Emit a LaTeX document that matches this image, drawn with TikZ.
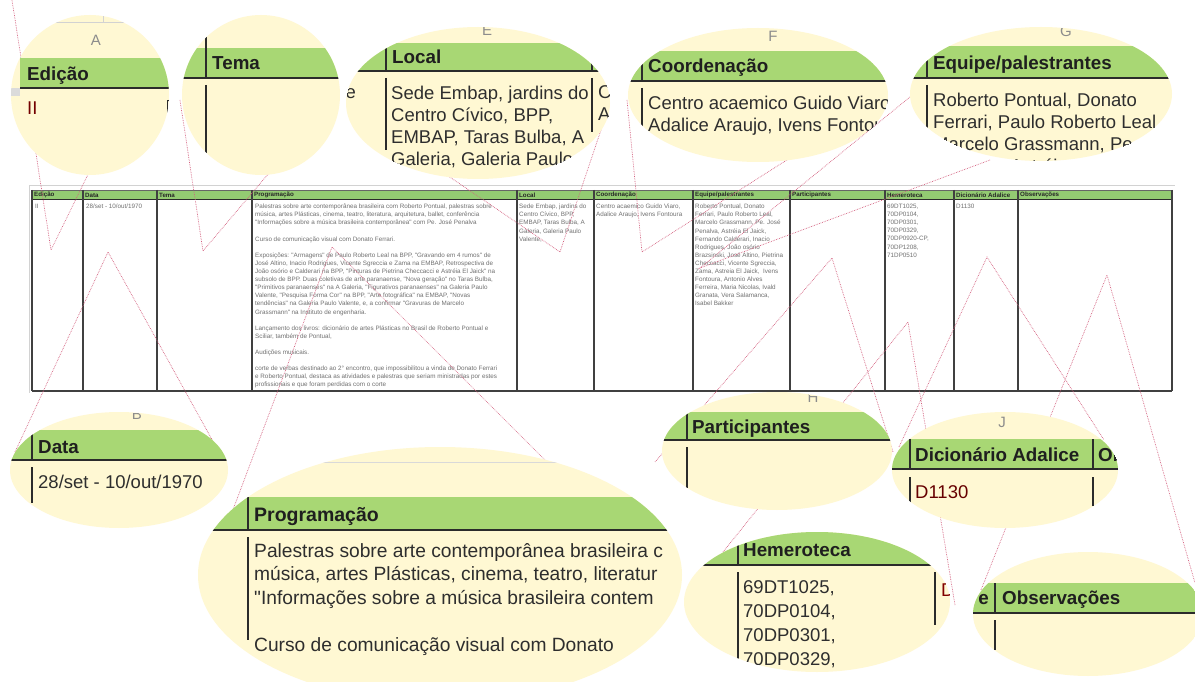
\documentclass[tikz,border=0pt]{standalone}
\usepackage{fontspec}
\setmainfont{Liberation Sans}
\definecolor{magy}{HTML}{FFF8D3}
\definecolor{magg}{HTML}{A8D774}
\definecolor{tabg}{HTML}{93CB72}
\definecolor{conncol}{HTML}{D4607F}
\definecolor{darkl}{HTML}{2B2B2B}
\definecolor{txt}{HTML}{2E2E2E}
\definecolor{tinytxt}{HTML}{707070}
\definecolor{lettc}{HTML}{8C8C8C}
\newcommand\qq{\textquotedbl}
\tikzset{
  conn/.style={draw=conncol, densely dotted, line width=0.7pt},
  vl/.style={draw=darkl, line width=1.6pt},
  hl/.style={draw=darkl, line width=1.8pt},
  tabline/.style={draw=black!75, line width=1.1pt},
  lett/.style={font=\fontsize{15}{18}\selectfont, text=lettc, inner sep=0pt},
  hdr/.style={font=\bfseries\fontsize{18.8}{22}\selectfont, text=black!88, anchor=base west, inner sep=0pt},
  big/.style={font=\fontsize{18.5}{22}\selectfont, text=txt, anchor=base west, inner sep=0pt},
  bigblock/.style={font=\fontsize{18.5}{22}\selectfont, text=txt, anchor=north west, align=left, inner sep=0pt},
  tinyhdr/.style={font=\bfseries\fontsize{6.2}{8}\selectfont, text=black!85, anchor=west, inner sep=0pt},
  tiny/.style={font=\fontsize{6.3}{8.1}\selectfont, text=tinytxt, anchor=north west, align=left, inner sep=0pt},
}
\begin{document}
\begin{tikzpicture}[x=1pt,y=-1pt]
\clip (0,0) rectangle (1195,682);
\fill[white] (0,0) rectangle (1195,682);

% ---------------- table ----------------
\draw[gray!35, line width=1pt] (29,186) -- (1175,186);
\draw[gray!35, line width=1pt] (29,186) -- (29,393);
\fill[tabg] (32,190) rectangle (1172,200);
\draw[black!60, line width=0.6pt] (32,190) -- (1172,190);
\draw[darkl, line width=1pt] (32,200) -- (1172,200);
\foreach \x in {32,83,157,252,517,594,693,790,885,954,1018,1172}
  \draw[tabline] (\x,190) -- (\x,391);
\draw[tabline] (32,391) -- (1172,391);

\node[tinyhdr] (th1) at (34,195) {Edição};
\node[tinyhdr] (th2) at (85,195) {Data};
\node[tinyhdr] (th3) at (159,195) {Tema};
\node[tinyhdr] (th4) at (254,195) {Programação};
\node[tinyhdr] (th5) at (519,195) {Local};
\node[tinyhdr] (th6) at (596,195) {Coordenação};
\node[tinyhdr] (th7) at (695,195) {Equipe/palestrantes};
\node[tinyhdr] (th8) at (792,195) {Participantes};
\node[tinyhdr] (th9) at (887,195) {Hemeroteca};
\node[tinyhdr] (th10) at (956,195) {Dicionário Adalice};
\node[tinyhdr] (th11) at (1020,195) {Observações};

\node[tiny] (tb1) at (35,204) {II};
\node[tiny] (tb2) at (86,204) {28/set - 10/out/1970};
\node[tiny] (tb4) at (255,204) {Palestras sobre arte contemporânea brasileira com Roberto Pontual, palestras sobre\\
música, artes Plásticas, cinema, teatro, literatura, arquitetura, ballet, conferência\\
\qq Informações sobre a música brasileira contemporânea\qq{} com Pe. José Penalva\\
~\\
Curso de comunicação visual com Donato Ferrari.\\
~\\
Exposições: \qq Armagens\qq{} de Paulo Roberto Leal na BPP, \qq Gravando em 4 rumos\qq{} de\\
José Altino, Inacio Rodrigues, Vicente Sgreccia e Zama na EMBAP, Retrospectiva de\\
João osório e Calderari na BPP, \qq Pinturas de Pietrina Checcacci e Astréia El Jaick\qq{} na\\
subsolo de BPP. Duas coletivas de arte paranaense, \qq Nova geração\qq{} no Taras Bulba,\\
\qq Primitivos paranaenses\qq{} na A Galeria, \qq Figurativos paranaenses\qq{} na Galeria Paulo\\
Valente, \qq Pesquisa Forma Cor\qq{} na BPP, \qq Arte fotográfica\qq{} na EMBAP, \qq Novas\\
tendências\qq{} na Galeria Paulo Valente, e, a confirmar \qq Gravuras de Marcelo\\
Grassmann\qq{} na Instituto de engenharia.\\
~\\
Lançamento dos livros: dicionário de artes Plásticas no Brasil de Roberto Pontual e\\
Sciliar, também de Pontual,\\
~\\
Audições musicais.\\
~\\
corte de verbas destinado ao 2° encontro, que impossibilitou a vinda de Donato Ferrari\\
e Roberto Pontual, destaca as atividades e palestras que seriam ministradas por estes\\
profissionais e que foram perdidas com o corte};
\node[tiny] (tb5) at (519,204) {Sede Embap, jardins do\\Centro Cívico, BPP,\\EMBAP, Taras Bulba, A\\Galeria, Galeria Paulo\\Valente,};
\node[tiny] (tb6) at (596,204) {Centro acaemico Guido Viaro,\\Adalice Araujo, Ivens Fontoura};
\node[tiny] (tb7) at (695,204) {Roberto Pontual, Donato\\Ferrari, Paulo Roberto Leal,\\Marcelo Grassmann, Pe. José\\Penalva, Astréia El Jaick,\\Fernando Calderari, Inacio\\Rodrigues, João osório\\Brazsinski, José Altino, Pietrina\\Checcacci, Vicente Sgreccia,\\Zama, Astreia El Jaick,~ Ivens\\Fontoura, Antonio Alves\\Ferreira, Maria Nicolas, Ivald\\Granata, Vera Salamanca,\\Isabel Bakker};
\node[tiny] (tb9) at (887,204) {69DT1025,\\70DP0104,\\70DP0301,\\70DP0329,\\70DP0920-CP,\\70DP1208,\\71DP0510};
\node[tiny] (tb10) at (956,204) {D1130};

% ---------------- connectors ----------------
\coordinate (tA) at (51,250);   \coordinate (eA1) at (12,0);     \coordinate (eA2) at (100,150);
\coordinate (tT) at (203,251);  \coordinate (eT1) at (180,100);  \coordinate (eT2) at (280,160);
\coordinate (tL) at (560,252);  \coordinate (eL1) at (410,150);  \coordinate (eL2) at (607,112);
\coordinate (tF) at (642,252);  \coordinate (eF1) at (627,100);  \coordinate (eF2) at (790,158);
\coordinate (tG) at (700,268);  \coordinate (eG1) at (910,97);   \coordinate (eG2) at (990,160);
\coordinate (tB) at (108,252);  \coordinate (eB1) at (15,452);   \coordinate (eB2) at (215,445);
\coordinate (tP) at (332,247);  \coordinate (eP1) at (214,560);  \coordinate (eP2) at (560,475);
\coordinate (tH) at (832,258);  \coordinate (eH1) at (655,462);  \coordinate (eH2) at (893,452);
\coordinate (tJ) at (987,257);  \coordinate (eJ1) at (899,447);  \coordinate (eJ2) at (1104,440);
\coordinate (tI) at (908,322);  \coordinate (eI1) at (723,552);  \coordinate (eI2) at (955,605);
\coordinate (tO) at (1107,275); \coordinate (eO1) at (981,590);  \coordinate (eO2) at (1195,583);
\foreach \t/\a/\b in {tA/eA1/eA2, tT/eT1/eT2, tL/eL1/eL2, tF/eF1/eF2, tG/eG1/eG2, tB/eB1/eB2, tP/eP1/eP2, tH/eH1/eH2, tJ/eJ1/eJ2, tI/eI1/eI2, tO/eO1/eO2}
  \draw[conn] (\a) -- (\t) -- (\b);

% ---------------- magnifier A : Edição ----------------
\begin{scope}
\clip (90,95) ellipse [x radius=79, y radius=80];
\fill[magy] (0,0) rectangle (200,200);
\draw[gray!35, line width=0.8pt] (20,22) -- (180,22);
\draw[gray!35, line width=0.8pt] (20,0) -- (20,88);
\draw[gray!35, line width=0.8pt] (103,10) -- (103,22);
\node[lett] (lA) at (96,40) {A};
\fill[magg] (20,58) rectangle (180,88);
\fill[gray!28] (0,88) rectangle (20,96);
\draw[hl] (20,88) -- (180,88);
\node[hdr] (hA) at (27,81) {Edição};
\node[big, text=red!45!black] (bA) at (27,114.5) {II};
\draw[vl] (168,100) -- (168,118);
\end{scope}

% ---------------- magnifier Tema ----------------
\begin{scope}
\clip (261,95) ellipse [x radius=79, y radius=80];
\fill[magy] (180,10) rectangle (345,180);
\fill[magg] (180,48) rectangle (345,78);
\draw[hl] (180,78) -- (345,78);
\draw[vl] (206,37) -- (206,78);
\draw[vl] (206,85) -- (206,153);
\node[hdr] (hT) at (212,69.5) {Tema};
\end{scope}

% ---------------- magnifier E : Local ----------------
\begin{scope}
\clip (478,103) ellipse [x radius=132, y radius=76];
\fill[magy] (340,20) rectangle (620,185);
\node[lett] (lE) at (487,30) {E};
\fill[magg] (340,43) rectangle (620,71);
\draw[hl] (340,71) -- (620,71);
\draw[vl] (386,43) -- (386,71);
\draw[vl] (592,43) -- (592,71);
\draw[vl] (386,78) -- (386,150);
\draw[vl] (592,78) -- (592,132);
\node[hdr] (hE) at (392,63.5) {Local};
\node[big, anchor=base east] (bE0) at (356,98.5) {e};
\node[bigblock] (bE) at (391,85.4) {Sede Embap, jardins do\\Centro Cívico, BPP,\\EMBAP, Taras Bulba, A\\Galeria, Galeria Paulo};
\node[bigblock] (bE2) at (598,85.4) {Ce\\Ad};
\end{scope}

% ---------------- magnifier F : Coordenação ----------------
\begin{scope}
\clip (758,95) ellipse [x radius=130, y radius=67];
\fill[magy] (620,20) rectangle (900,170);
\node[lett] (lF) at (773,36) {F};
\fill[magg] (620,51) rectangle (900,81);
\draw[hl] (620,81) -- (900,81);
\draw[vl] (642,51) -- (642,81);
\draw[vl] (642,88) -- (642,127);
\node[hdr] (hF) at (648,72.5) {Coordenação};
\node[bigblock] (bF) at (648,95.4) {Centro acaemico Guido Viaro,\\Adalice Araujo, Ivens Fontou};
\end{scope}

% ---------------- magnifier G : Equipe ----------------
\begin{scope}
\clip (1041,94) ellipse [x radius=131, y radius=67];
\fill[magy] (905,20) rectangle (1180,170);
\node[lett] (lG) at (1066,31) {G};
\fill[magg] (905,46) rectangle (1180,78);
\draw[hl] (905,78) -- (1180,78);
\draw[vl] (927,46) -- (927,78);
\draw[vl] (927,85) -- (927,135);
\node[hdr] (hG) at (933,69.5) {Equipe/palestrantes};
\node[bigblock] (bG) at (933,92.4) {Roberto Pontual, Donato\\Ferrari, Paulo Roberto Leal\\Marcelo Grassmann, Pe\\Penalva, Astréia El};
\end{scope}

% ---------------- magnifier B : Data ----------------
\begin{scope}
\clip (119,470) ellipse [x radius=109, y radius=58];
\fill[magy] (5,405) rectangle (235,535);
\node[lett] (lB) at (137,414) {B};
\fill[magg] (5,430) rectangle (235,460);
\draw[hl] (5,460) -- (235,460);
\draw[vl] (32,433) -- (32,460);
\draw[vl] (32,467) -- (32,503);
\node[hdr] (hB) at (38,453.5) {Data};
\node[big] (bB) at (38,488.5) {28/set - 10/out/1970};
\end{scope}

% ---------------- magnifier Programação ----------------
\begin{scope}
\clip (440,575) ellipse [x radius=242, y radius=128];
\fill[magy] (190,440) rectangle (690,710);
\draw[gray!30, line width=0.8pt] (190,462) -- (690,462);
\fill[magg] (190,497) rectangle (690,530);
\draw[hl] (190,530) -- (690,530);
\draw[vl] (248,497) -- (248,530);
\draw[vl] (248,537) -- (248,640);
\node[hdr, font=\bfseries\fontsize{19.5}{23}\selectfont] (hP) at (254,521) {Programação};
\node[bigblock, font=\fontsize{19.2}{23.5}\selectfont] (bP) at (254,543) {Palestras sobre arte contemporânea brasileira c\\música, artes Plásticas, cinema, teatro, literatur\\\qq Informações sobre a música brasileira contem\\~\\Curso de comunicação visual com Donato};
\end{scope}

% ---------------- magnifier H : Participantes ----------------
\begin{scope}
\clip (777,451) ellipse [x radius=115, y radius=59];
\fill[magy] (655,385) rectangle (900,520);
\node[lett] (lH) at (813,397) {H};
\fill[magg] (655,412) rectangle (900,440);
\draw[hl] (655,440) -- (900,440);
\draw[vl] (687,412) -- (687,440);
\draw[vl] (687,447) -- (687,488);
\node[hdr] (hH) at (692,433.5) {Participantes};
\end{scope}

% ---------------- magnifier J : Dicionário ----------------
\begin{scope}
\clip (1005,470) ellipse [x radius=113, y radius=58];
\fill[magy] (885,405) rectangle (1125,535);
\node[lett] (lJ) at (1002,422) {J};
\fill[magg] (885,439) rectangle (1125,469);
\draw[hl] (885,469) -- (1125,469);
\draw[vl] (910,439) -- (910,469);
\draw[vl] (1093,439) -- (1093,469);
\draw[vl] (910,477) -- (910,503);
\draw[vl] (1093,477) -- (1093,506);
\node[hdr] (hJ) at (915,461.5) {Dicionário Adalice};
\node[hdr] (hJ2) at (1098,461.5) {Ob};
\node[big, text=red!40!black] (bJ) at (915,498.5) {D1130};
\end{scope}

% ---------------- magnifier I : Hemeroteca ----------------
\begin{scope}
\clip (817,602) ellipse [x radius=133, y radius=70];
\fill[magy] (680,530) rectangle (955,675);
\fill[magg] (680,530) rectangle (955,565);
\draw[hl] (680,565) -- (955,565);
\draw[vl] (738,533) -- (738,565);
\draw[vl] (738,572) -- (738,680);
\draw[vl] (935,572) -- (935,625);
\node[hdr] (hI) at (743,556.5) {Hemeroteca};
\node[bigblock, font=\fontsize{18.5}{24}\selectfont] (bI) at (743,580.4) {69DT1025,\\70DP0104,\\70DP0301,\\70DP0329,};
\node[big, text=red!50!black] (bI2) at (941,596.5) {D};
\end{scope}

% ---------------- magnifier : Observações ----------------
\begin{scope}
\clip (1088,614) ellipse [x radius=115, y radius=62];
\fill[magy] (970,550) rectangle (1210,680);
\fill[magg] (970,583) rectangle (1210,613);
\draw[hl] (970,613) -- (1210,613);
\draw[vl] (995,583) -- (995,613);
\draw[vl] (995,620) -- (995,650);
\node[hdr] (hK) at (1002,604.5) {Observações};
\node[hdr, anchor=base east] (hK0) at (989,604.5) {e};
\end{scope}
\end{tikzpicture}
\end{document}
